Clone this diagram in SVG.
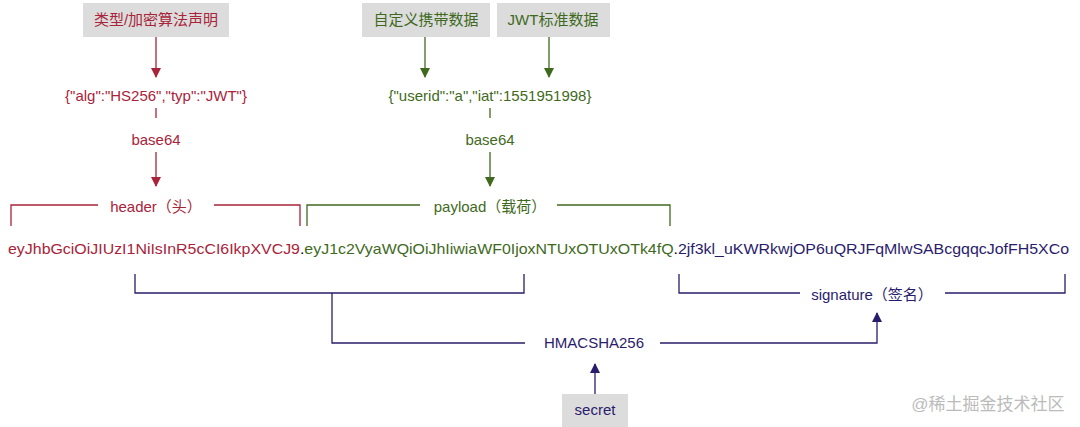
<svg xmlns="http://www.w3.org/2000/svg" width="1080" height="427" viewBox="0 0 1080 427">
<defs>
<style>
text{font-family:"Liberation Sans","Noto Sans CJK SC",sans-serif;font-size:15px;text-anchor:middle}
.r{fill:#a8243a}.g{fill:#3f6a1e}.n{fill:#2a1c6c}
.lr{stroke:#a8243a;fill:none;stroke-width:1.3}.lg{stroke:#3f6a1e;fill:none;stroke-width:1.3}.ln{stroke:#2a1c6c;fill:none;stroke-width:1.3}
.box{fill:#dcdcdc}
</style>
<marker id="ar" markerWidth="10" markerHeight="10" refX="9" refY="5" orient="auto" markerUnits="userSpaceOnUse"><path d="M0,0L10,5L0,10z" fill="#a8243a"/></marker>
<marker id="ag" markerWidth="10" markerHeight="10" refX="9" refY="5" orient="auto" markerUnits="userSpaceOnUse"><path d="M0,0L10,5L0,10z" fill="#3f6a1e"/></marker>
<marker id="an" markerWidth="10" markerHeight="10" refX="9" refY="5" orient="auto" markerUnits="userSpaceOnUse"><path d="M0,0L10,5L0,10z" fill="#2a1c6c"/></marker>
</defs>
<rect width="1080" height="427" fill="#fff"/>
<g id="n-decl"><rect class="box" x="83" y="3" width="146" height="34"/><text class="r" x="156" y="25">类型/加密算法声明</text></g>
<g id="n-custom"><rect class="box" x="362" y="3" width="128" height="34"/><text class="g" x="426" y="25">自定义携带数据</text></g>
<g id="n-std"><rect class="box" x="497" y="3" width="113" height="34"/><text class="g" x="553" y="25">JWT标准数据</text></g>
<g id="n-hjson"><text class="r" x="156" y="101">{"alg":"HS256","typ":"JWT"}</text></g>
<g id="n-pjson"><text class="g" x="490" y="101">{"userid":"a","iat":1551951998}</text></g>
<g id="n-b64h"><text class="r" x="156" y="145">base64</text></g>
<g id="n-b64p"><text class="g" x="490" y="145">base64</text></g>
<g id="n-header"><text class="r" x="156" y="212">header（头）</text></g>
<g id="n-payload"><text class="g" x="490" y="212">payload（载荷）</text></g>
<g id="n-token"><text x="8" y="254" style="text-anchor:start" textLength="1061" lengthAdjust="spacingAndGlyphs"><tspan class="r">eyJhbGciOiJIUzI1NiIsInR5cCI6IkpXVCJ9</tspan><tspan fill="#000">.</tspan><tspan class="g">eyJ1c2VyaWQiOiJhIiwiaWF0IjoxNTUxOTUxOTk4fQ</tspan><tspan fill="#000">.</tspan><tspan class="n">2jf3kl_uKWRkwjOP6uQRJFqMlwSABcgqqcJofFH5XCo</tspan></text></g>
<g id="n-sig"><text class="n" x="872" y="300">signature（签名）</text></g>
<g id="n-hmac"><text class="n" x="594" y="348">HMACSHA256</text></g>
<g id="n-secret"><rect class="box" x="562" y="394" width="66" height="33"/><text class="n" x="595" y="415">secret</text></g>
<g id="connectors">
<path class="lr" d="M156,37V77" marker-end="url(#ar)"/>
<path class="lg" d="M425,37V77" marker-end="url(#ag)"/>
<path class="lg" d="M549,37V77" marker-end="url(#ag)"/>
<path class="lr" d="M156,108V118"/>
<path class="lg" d="M490,108V118"/>
<path class="lr" d="M156,152V186" marker-end="url(#ar)"/>
<path class="lg" d="M490,152V186" marker-end="url(#ag)"/>
<path class="lr" d="M11,226V205H98M214,205H300V226"/>
<path class="lg" d="M307,226V205H420M557,205H670V226"/>
<path class="ln" d="M135,274V293H524V274M332,293V343H525"/>
<path class="ln" d="M679,274V293H800M945,293H1065V274"/>
<path class="ln" d="M660,343H877V313" marker-end="url(#an)"/>
<path class="ln" d="M595,394V364" marker-end="url(#an)"/>
</g>
<text x="988" y="410" style="fill:#bbb;font-size:17px">@稀土掘金技术社区</text>
</svg>
